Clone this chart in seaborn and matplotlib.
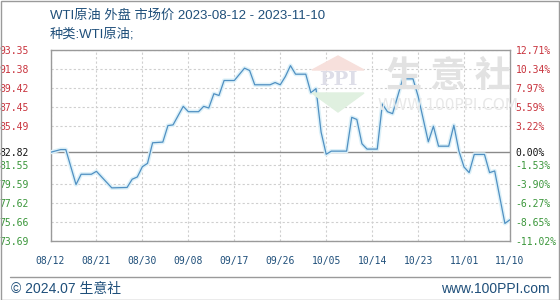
import matplotlib
matplotlib.use("Agg")
import matplotlib.pyplot as plt
from matplotlib.patches import Rectangle, Polygon
import seaborn as sns
import pandas as pd

# ---- data ----
dates = ["2023-08-12", "2023-08-14", "2023-08-15", "2023-08-17", "2023-08-18", "2023-08-20",
         "2023-08-21", "2023-08-24", "2023-08-27", "2023-08-28", "2023-08-29", "2023-08-30",
         "2023-08-31", "2023-09-01", "2023-09-03", "2023-09-04", "2023-09-05", "2023-09-07",
         "2023-09-08", "2023-09-10", "2023-09-11", "2023-09-12", "2023-09-13", "2023-09-14",
         "2023-09-15", "2023-09-17", "2023-09-19", "2023-09-20", "2023-09-21", "2023-09-24",
         "2023-09-25", "2023-09-26", "2023-09-27", "2023-09-28", "2023-09-29", "2023-10-01",
         "2023-10-02", "2023-10-03", "2023-10-04", "2023-10-05", "2023-10-06", "2023-10-09",
         "2023-10-10", "2023-10-11", "2023-10-12", "2023-10-13", "2023-10-15", "2023-10-16",
         "2023-10-17", "2023-10-18", "2023-10-20", "2023-10-22", "2023-10-23", "2023-10-25",
         "2023-10-26", "2023-10-27", "2023-10-29", "2023-10-30", "2023-10-31", "2023-11-01",
         "2023-11-02", "2023-11-03", "2023-11-05", "2023-11-06", "2023-11-07", "2023-11-09",
         "2023-11-10"]
prices = [82.82, 83.10, 83.10, 79.50, 80.56, 80.56,
          80.86, 79.16, 79.20, 80.05, 80.28, 81.34,
          81.68, 83.80, 83.87, 85.57, 85.64, 87.55,
          87.00, 87.00, 87.55, 87.38, 88.85, 88.67,
          90.21, 90.21, 91.48, 91.24, 89.77, 89.77,
          90.00, 89.77, 90.62, 91.74, 90.86, 90.86,
          88.95, 89.38, 84.90, 82.62, 82.94, 82.94,
          86.42, 86.20, 83.70, 83.15, 83.15, 87.79,
          87.00, 86.80, 90.38, 90.38, 88.60, 83.90,
          85.50, 83.45, 83.45, 85.60, 82.94, 81.30,
          80.73, 82.60, 82.60, 80.73, 80.90, 75.50,
          75.88]
base_price = 82.82
left_ticks = [93.35, 91.38, 89.42, 87.45, 85.49, 82.82, 81.55, 79.59, 77.62, 75.66, 73.69]
right_labels = ["12.71%", "10.34%", "7.97%", "5.59%", "3.22%", "0.00%",
                "-1.53%", "-3.90%", "-6.27%", "-8.65%", "-11.02%"]
x_tick_labels = ["08/12", "08/21", "08/30", "09/08", "09/17", "09/26",
                 "10/05", "10/14", "10/23", "11/01", "11/10"]
title = "WTI原油 外盘 市场价 2023-08-12 - 2023-11-10"
subtitle = "种类:WTI原油;"
footer_left = "© 2024.07 生意社"
footer_right = "www.100PPI.com"

df = pd.DataFrame({"date": pd.to_datetime(dates), "price": prices})
x_tick_dates = pd.date_range("2023-08-12", "2023-11-10", freq="9D")

# ---- style ----
sns.set_theme(style="white")
CJK = ["Noto Sans CJK SC", "DejaVu Sans"]
LAT_CJK = ["Liberation Sans", "Noto Sans CJK SC", "DejaVu Sans"]
plt.rcParams["font.family"] = CJK

W, H = 560, 300
fig = plt.figure(figsize=(W / 100, H / 100), dpi=100)

def fx(x):
    return x / W

def fy(y):
    return 1 - y / H

L, R, T, B = 50.5, 510, 50, 241
ax = fig.add_axes([fx(L), fy(B), fx(R) - fx(L), fy(T) - fy(B)])

# watermark
wm_color = "#e2e2e2"
fig.text(fx(448), fy(77), "生 意 社", fontsize=26, color=wm_color, ha="center", va="center",
         family=CJK, fontweight="bold", zorder=0)
fig.text(fx(448), fy(106), "WWW.100PPI.COM", fontsize=11, color="#e8e8e8", ha="center",
         va="center", family=["DejaVu Sans"], zorder=0)
fig.text(fx(338), fy(80), "PPI", fontsize=14, color="#dedee8", ha="center", va="center",
         family=["DejaVu Serif"], fontweight="bold", zorder=0)
fig.patches.append(Polygon([(fx(312), fy(70)), (fx(338), fy(56)), (fx(364), fy(70))],
                           closed=True, transform=fig.transFigure, color="#f7e0dc", zorder=0))
fig.patches.append(Polygon([(fx(312), fy(93)), (fx(364), fy(93)), (fx(338), fy(112))],
                           closed=True, transform=fig.transFigure, color="#e0f0e0", zorder=0))
ax.set_facecolor("none")

# glow + line
sns.lineplot(data=df, x="date", y="price", ax=ax, color="#dcf0f8", linewidth=3.0, zorder=3)
sns.lineplot(data=df, x="date", y="price", ax=ax, color="#5090c2", linewidth=0.9, zorder=4)

ax.set_xlim(pd.Timestamp("2023-08-12"), pd.Timestamp("2023-11-10"))
ax.set_ylim(73.69, 93.35)
ax.set_xlabel("")
ax.set_ylabel("")

# grid
for t in left_ticks:
    if t == base_price:
        ax.axhline(t, color="#8a8a8a", linewidth=1.0, zorder=2)
    else:
        ax.axhline(t, color="#cfcfcf", linewidth=0.8, linestyle=(0, (2, 2)), zorder=1)
for d in x_tick_dates:
    ax.axvline(d, color="#cfcfcf", linewidth=0.8, linestyle=(0, (2, 2)), zorder=1)

for s in ax.spines.values():
    s.set_color("#9a9a9a")
    s.set_linewidth(1.0)

mono = ["DejaVu Sans Mono"]
red, green, black, blue = "#c8323c", "#3a963a", "#111111", "#1f4f7a"

ax.set_yticks(left_ticks)
ax.set_yticklabels([f"{t:.2f}" for t in left_ticks])
ax.tick_params(axis="y", length=0, pad=16)
for lab, t in zip(ax.get_yticklabels(), left_ticks):
    lab.set_family(mono)
    lab.set_fontsize(7)
    lab.set_color(red if t > base_price else (black if t == base_price else green))

ax.set_xticks(x_tick_dates)
ax.set_xticklabels(x_tick_labels)
ax.tick_params(axis="x", length=0, pad=11)
for lab in ax.get_xticklabels():
    lab.set_family(mono)
    lab.set_fontsize(7)
    lab.set_color(blue)

ax2 = ax.twinx()
ax2.set_ylim(73.69, 93.35)
ax2.set_yticks(left_ticks)
ax2.set_yticklabels(right_labels)
ax2.tick_params(axis="y", length=0, pad=4)
for lab, t in zip(ax2.get_yticklabels(), left_ticks):
    lab.set_family(mono)
    lab.set_fontsize(7)
    lab.set_color(red if t > base_price else (black if t == base_price else green))
for s in ax2.spines.values():
    s.set_visible(False)
ax2.grid(False)
ax.grid(False)

# titles
fig.text(fx(50), fy(16), title, fontsize=9.5, color=blue, ha="left", va="center", family=LAT_CJK)
fig.text(fx(50), fy(34), subtitle, fontsize=9.5, color=blue, ha="left", va="center", family=LAT_CJK)

# footer
fig.lines.append(plt.Line2D([fx(10), fx(550)], [fy(277), fy(277)], transform=fig.transFigure,
                            color="#9a9a9a", linewidth=1.0))
fig.text(fx(11), fy(289), footer_left, fontsize=10, color=blue, ha="left", va="center", family=LAT_CJK)
fig.text(fx(550), fy(289), footer_right, fontsize=10, color=blue, ha="right", va="center", family=LAT_CJK)

# outer border
fig.patches.append(Rectangle((0.5 / W, 0.5 / H), 1 - 1.5 / W, 1 - 1.5 / H, transform=fig.transFigure,
                             fill=False, edgecolor="#9a9a9a", linewidth=1.0))

fig.savefig("out.png", dpi=100)
